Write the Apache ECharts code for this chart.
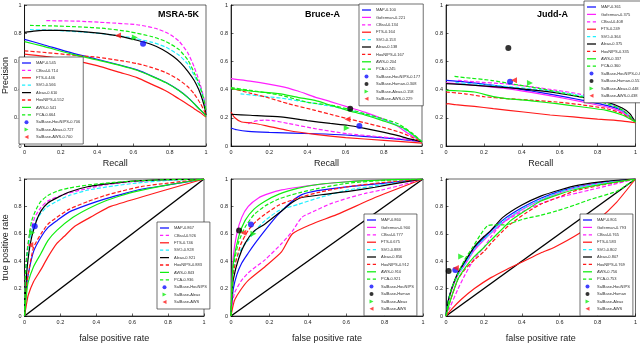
<!DOCTYPE html>
<html>
<head>
<meta charset="utf-8">
<script src="https://cdn.jsdelivr.net/npm/echarts@6/dist/echarts.min.js"></script>
<style>
  html, body { margin: 0; padding: 0; background: #fff; }
  #chart { width: 640px; height: 344px; }
</style>
</head>
<body>
<div id="chart"></div>
<script>
// ---- MSRA-5K precision / recall
const msraPrMAP = [[0,0.756],[0.1,0.72],[0.26,0.66],[0.4,0.615],[0.53,0.573],[0.62,0.54],[0.705,0.495],[0.78,0.45],[0.85,0.395],[0.9,0.345],[0.935,0.30],[0.965,0.26],[0.99,0.23],[1,0.21]]
const msraPrCBsal = [[0.12,0.889],[0.3,0.885],[0.45,0.875],[0.62,0.86],[0.72,0.835],[0.79,0.80],[0.85,0.745],[0.9,0.66],[0.935,0.56],[0.965,0.45],[0.99,0.33],[1,0.25]]
const msraPrFTS = [[0,0.652],[0.1,0.638],[0.26,0.609],[0.4,0.57],[0.53,0.52],[0.62,0.485],[0.705,0.435],[0.78,0.39],[0.85,0.335],[0.9,0.295],[0.935,0.265],[0.97,0.235],[1,0.205]]
const msraPrSVO = [[0.03,0.825],[0.15,0.822],[0.3,0.81],[0.44,0.795],[0.58,0.77],[0.705,0.735],[0.78,0.70],[0.85,0.645],[0.9,0.58],[0.935,0.50],[0.965,0.42],[0.99,0.32],[1,0.24]]
const msraPrAleax = [[0,0.806],[0.05,0.815],[0.1,0.82],[0.2,0.82],[0.35,0.808],[0.5,0.785],[0.62,0.75],[0.7,0.72],[0.76,0.685],[0.82,0.635],[0.86,0.59],[0.9,0.53],[0.935,0.465],[0.96,0.40],[0.98,0.33],[0.995,0.26],[1,0.22]]
const msraPrHouNIPS = [[0,0.675],[0.1,0.665],[0.26,0.645],[0.4,0.63],[0.53,0.605],[0.62,0.585],[0.705,0.555],[0.78,0.52],[0.85,0.47],[0.9,0.42],[0.935,0.37],[0.97,0.30],[0.99,0.25],[1,0.22]]
const msraPrAWS = [[0,0.74],[0.1,0.708],[0.26,0.652],[0.4,0.61],[0.53,0.57],[0.62,0.537],[0.705,0.492],[0.78,0.448],[0.85,0.393],[0.9,0.343],[0.935,0.30],[0.965,0.26],[0.99,0.23],[1,0.21]]
const msraPrPCA = [[0.03,0.855],[0.15,0.852],[0.3,0.845],[0.44,0.834],[0.58,0.81],[0.705,0.775],[0.78,0.74],[0.85,0.685],[0.9,0.61],[0.935,0.52],[0.965,0.43],[0.99,0.32],[1,0.25]]
const msraPrSalHou = [[0.653,0.725]]
const msraPrSalAleax = [[0.608,0.77]]
const msraPrSalAWS = [[0.515,0.784]]
const msraPrScores = ['0.545','0.714','0.446','0.566','0.610','0.552','0.541','0.664','0.706','0.727','0.700']

// ---- Bruce-A precision / recall
const brucePrMAP = [[0,0.128],[0.03,0.115],[0.09,0.104],[0.2,0.097],[0.44,0.087],[0.6,0.078],[0.79,0.059],[0.9,0.045],[1,0.03]]
const brucePrGoferman = [[0,0.478],[0.1,0.46],[0.26,0.423],[0.35,0.39],[0.44,0.347],[0.52,0.315],[0.61,0.277],[0.7,0.24],[0.79,0.194],[0.86,0.15],[0.93,0.087],[1,0.03]]
const brucePrCBsal = [[0.09,0.158],[0.13,0.178],[0.18,0.184],[0.22,0.18],[0.3,0.16],[0.44,0.123],[0.61,0.087],[0.79,0.064],[0.9,0.05],[1,0.03]]
const brucePrFTS = [[0,0.241],[0.02,0.2],[0.056,0.17],[0.1,0.165],[0.18,0.145],[0.3,0.11],[0.44,0.083],[0.6,0.06],[0.8,0.04],[1,0.02]]
const brucePrSVO = [[0.05,0.37],[0.15,0.355],[0.26,0.34],[0.4,0.31],[0.53,0.28],[0.62,0.255],[0.7,0.225],[0.8,0.185],[0.875,0.145],[0.95,0.08],[1,0.03]]
const brucePrAleax = [[0,0.225],[0.1,0.218],[0.26,0.206],[0.4,0.18],[0.52,0.16],[0.61,0.147],[0.7,0.125],[0.79,0.1],[0.87,0.075],[0.93,0.052],[1,0.03]]
const brucePrHouNIPS = [[0,0.41],[0.1,0.375],[0.18,0.348],[0.3,0.3],[0.44,0.253],[0.52,0.225],[0.61,0.194],[0.7,0.165],[0.79,0.135],[0.9,0.09],[1,0.03]]
const brucePrAWS = [[0,0.407],[0.1,0.39],[0.26,0.37],[0.35,0.345],[0.44,0.324],[0.52,0.29],[0.61,0.253],[0.7,0.22],[0.79,0.182],[0.91,0.123],[1,0.03]]
const brucePrPCA = [[0,0.414],[0.1,0.395],[0.26,0.36],[0.4,0.31],[0.53,0.288],[0.62,0.26],[0.7,0.229],[0.79,0.195],[0.875,0.158],[0.95,0.09],[1,0.03]]
const brucePrSalHou = [[0.672,0.142]]
const brucePrSalHuman = [[0.624,0.265]]
const brucePrSalAleax = [[0.606,0.128]]
const brucePrSalAWS = [[0.61,0.189]]
const brucePrScores = ['0.100','0.221','0.134','0.164','0.153','0.138','0.167','0.204','0.245','0.177','0.308','0.158','0.229']

// ---- Judd-A precision / recall
const juddPrMAP = [[0,0.466],[0.1,0.455],[0.32,0.418],[0.45,0.39],[0.585,0.359],[0.7,0.33],[0.847,0.288],[0.93,0.25],[1,0.17]]
const juddPrGoferman = [[0,0.447],[0.1,0.437],[0.32,0.407],[0.45,0.38],[0.585,0.348],[0.7,0.318],[0.847,0.277],[0.93,0.24],[1,0.17]]
const juddPrCBsal = [[0.063,0.466],[0.15,0.455],[0.32,0.44],[0.45,0.42],[0.585,0.395],[0.7,0.37],[0.76,0.35],[0.85,0.315],[0.934,0.253],[1,0.17]]
const juddPrFTS = [[0,0.296],[0.01,0.30],[0.05,0.293],[0.15,0.281],[0.25,0.265],[0.41,0.241],[0.55,0.22],[0.672,0.206],[0.8,0.19],[0.934,0.177],[1,0.165]]
const juddPrSVO = [[0.05,0.45],[0.15,0.44],[0.3,0.425],[0.45,0.405],[0.585,0.385],[0.7,0.36],[0.85,0.31],[0.934,0.25],[1,0.17]]
const juddPrAleax = [[0,0.442],[0.1,0.435],[0.32,0.414],[0.45,0.398],[0.585,0.376],[0.7,0.35],[0.847,0.312],[0.93,0.27],[0.97,0.23],[1,0.17]]
const juddPrHouNIPS = [[0,0.383],[0.1,0.37],[0.2,0.35],[0.32,0.336],[0.45,0.325],[0.585,0.312],[0.7,0.295],[0.847,0.265],[0.93,0.23],[1,0.17]]
const juddPrAWS = [[0,0.395],[0.08,0.39],[0.15,0.383],[0.25,0.35],[0.32,0.336],[0.45,0.32],[0.585,0.30],[0.7,0.28],[0.847,0.253],[0.93,0.22],[1,0.17]]
const juddPrPCA = [[0.045,0.494],[0.1,0.485],[0.237,0.466],[0.35,0.44],[0.498,0.407],[0.62,0.375],[0.76,0.336],[0.85,0.3],[0.934,0.253],[1,0.17]]
const juddPrSalHou = [[0.338,0.456]]
const juddPrSalHuman = [[0.329,0.695]]
const juddPrSalAleax = [[0.443,0.447]]
const juddPrSalAWS = [[0.359,0.466]]
const juddPrScores = ['0.361','0.375','0.408','0.249','0.364','0.375','0.335','0.337','0.360','0.423','0.551','0.448','0.438']

// ---- MSRA-5K ROC
const msraRocMAP = [[0,0],[0.01,0.2],[0.02,0.3],[0.05,0.47],[0.092,0.577],[0.13,0.645],[0.18,0.696],[0.25,0.76],[0.357,0.815],[0.45,0.855],[0.535,0.886],[0.65,0.925],[0.8,0.957],[1,1]]
const msraRocCBsal = [[0,0],[0.005,0.3],[0.012,0.458],[0.03,0.6],[0.057,0.72],[0.09,0.79],[0.127,0.838],[0.216,0.886],[0.3,0.915],[0.446,0.957],[0.6,0.98],[0.8,0.995],[1,1]]
const msraRocFTS = [[0,0],[0.01,0.08],[0.02,0.15],[0.05,0.25],[0.092,0.34],[0.13,0.43],[0.18,0.53],[0.22,0.58],[0.28,0.655],[0.38,0.73],[0.48,0.80],[1,1]]
const msraRocSVO = [[0,0],[0.008,0.3],[0.02,0.506],[0.045,0.64],[0.074,0.72],[0.12,0.79],[0.18,0.838],[0.25,0.88],[0.357,0.92],[0.5,0.95],[0.623,0.97],[0.8,0.99],[1,1]]
const msraRocAleax = [[0,0],[0.005,0.15],[0.012,0.316],[0.025,0.47],[0.04,0.577],[0.065,0.69],[0.092,0.767],[0.13,0.825],[0.18,0.862],[0.25,0.905],[0.357,0.945],[0.5,0.97],[0.623,0.986],[0.8,0.995],[1,1]]
const msraRocHouNIPS = [[0,0],[0.01,0.2],[0.02,0.3],[0.05,0.5],[0.092,0.60],[0.13,0.67],[0.18,0.72],[0.25,0.78],[0.357,0.838],[0.45,0.88],[0.535,0.91],[0.65,0.945],[0.8,0.97],[1,1]]
const msraRocAWS = [[0,0],[0.01,0.15],[0.02,0.245],[0.05,0.36],[0.092,0.458],[0.13,0.55],[0.18,0.625],[0.27,0.72],[0.357,0.785],[0.446,0.838],[0.535,0.878],[0.623,0.91],[0.8,0.957],[1,1]]
const msraRocPCA = [[0,0],[0.005,0.3],[0.012,0.435],[0.025,0.58],[0.04,0.696],[0.065,0.78],[0.092,0.838],[0.13,0.88],[0.18,0.91],[0.25,0.935],[0.357,0.957],[0.5,0.975],[0.623,0.986],[0.8,0.995],[1,1]]
const msraRocSalHou = [[0.057,0.656]]
const msraRocSalAleax = [[0.042,0.608]]
const msraRocSalAWS = [[0.032,0.518]]
const msraRocScores = ['0.867','0.926','0.746','0.928','0.921','0.883','0.843','0.936']

// ---- Bruce-A ROC
const bruceRocMAP = [[0,0],[0.005,0.1],[0.012,0.197],[0.03,0.3],[0.056,0.387],[0.09,0.46],[0.125,0.53],[0.177,0.625],[0.22,0.70],[0.264,0.767],[0.32,0.84],[0.369,0.886],[0.45,0.915],[0.612,0.945],[0.8,0.97],[0.9,0.985],[1,1]]
const bruceRocGoferman = [[0,0],[0.005,0.25],[0.012,0.435],[0.03,0.6],[0.056,0.72],[0.09,0.8],[0.143,0.862],[0.2,0.895],[0.264,0.92],[0.35,0.94],[0.44,0.957],[0.6,0.98],[0.786,0.993],[1,1]]
const bruceRocCBsal = [[0,0],[0.005,0.08],[0.02,0.173],[0.05,0.25],[0.09,0.316],[0.177,0.41],[0.264,0.53],[0.32,0.62],[0.369,0.72],[0.44,0.77],[0.52,0.82],[0.612,0.862],[0.7,0.895],[0.786,0.92],[0.9,0.96],[1,1]]
const bruceRocFTS = [[0,0],[0.01,0.07],[0.02,0.12],[0.05,0.19],[0.09,0.26],[0.177,0.36],[0.264,0.47],[0.32,0.60],[0.42,0.67],[0.55,0.74],[0.76,0.87],[1,1]]
const bruceRocSVO = [[0,0],[0.008,0.25],[0.02,0.387],[0.05,0.48],[0.09,0.553],[0.13,0.63],[0.177,0.696],[0.25,0.77],[0.351,0.815],[0.45,0.86],[0.612,0.92],[0.8,0.96],[0.9,0.98],[1,1]]
const bruceRocAleax = [[0,0],[0.005,0.15],[0.012,0.268],[0.04,0.42],[0.073,0.53],[0.12,0.62],[0.177,0.672],[0.264,0.767],[0.32,0.83],[0.369,0.865],[0.5,0.89],[0.612,0.91],[0.75,0.94],[0.87,0.97],[1,1]]
const bruceRocHouNIPS = [[0,0],[0.005,0.18],[0.012,0.316],[0.05,0.52],[0.09,0.625],[0.13,0.69],[0.177,0.743],[0.25,0.81],[0.351,0.862],[0.45,0.9],[0.612,0.945],[0.8,0.975],[1,1]]
const bruceRocAWS = [[0,0],[0.005,0.22],[0.012,0.387],[0.04,0.58],[0.073,0.696],[0.12,0.78],[0.177,0.838],[0.25,0.89],[0.351,0.933],[0.45,0.96],[0.612,0.98],[0.8,0.993],[1,1]]
const bruceRocPCA = [[0,0],[0.005,0.2],[0.012,0.36],[0.04,0.54],[0.073,0.648],[0.12,0.74],[0.177,0.803],[0.25,0.855],[0.351,0.898],[0.45,0.93],[0.612,0.97],[0.8,0.99],[1,1]]
const bruceRocSalHou = [[0.104,0.667]]
const bruceRocSalHuman = [[0.042,0.625]]
const bruceRocSalAleax = [[0.117,0.60]]
const bruceRocSalAWS = [[0.064,0.608]]
const bruceRocScores = ['0.860','0.900','0.777','0.675','0.888','0.856','0.912','0.910','0.921']

// ---- Judd-A ROC
const juddRocMAP = [[0,0],[0.01,0.1],[0.03,0.2],[0.063,0.31],[0.1,0.39],[0.15,0.495],[0.2,0.57],[0.3,0.70],[0.4,0.79],[0.5,0.86],[0.6,0.91],[0.7,0.945],[0.85,0.98],[1,1]]
const juddRocGoferman = [[0,0],[0.01,0.09],[0.03,0.19],[0.063,0.3],[0.1,0.375],[0.15,0.48],[0.2,0.555],[0.3,0.68],[0.4,0.775],[0.5,0.845],[0.6,0.9],[0.7,0.94],[0.85,0.975],[1,1]]
const juddRocCBsal = [[0,0],[0.02,0.06],[0.063,0.197],[0.1,0.3],[0.15,0.42],[0.2,0.5],[0.237,0.577],[0.3,0.68],[0.41,0.767],[0.5,0.82],[0.585,0.862],[0.7,0.9],[0.76,0.92],[0.88,0.96],[1,1]]
const juddRocFTS = [[0,0],[0.03,0.05],[0.08,0.12],[0.15,0.2],[0.237,0.28],[0.32,0.34],[0.41,0.4],[0.5,0.46],[0.57,0.5],[0.7,0.6],[0.8,0.7],[0.9,0.83],[1,1]]
const juddRocSVO = [[0,0],[0.01,0.1],[0.03,0.2],[0.063,0.3],[0.1,0.38],[0.15,0.49],[0.2,0.56],[0.3,0.69],[0.4,0.78],[0.5,0.85],[0.6,0.905],[0.7,0.94],[0.85,0.975],[1,1]]
const juddRocAleax = [[0,0],[0.01,0.1],[0.03,0.2],[0.063,0.316],[0.1,0.4],[0.15,0.506],[0.2,0.58],[0.237,0.625],[0.3,0.72],[0.4,0.81],[0.5,0.875],[0.6,0.92],[0.7,0.955],[0.85,0.985],[1,1]]
const juddRocHouNIPS = [[0,0],[0.02,0.1],[0.063,0.268],[0.1,0.34],[0.15,0.41],[0.2,0.47],[0.237,0.53],[0.3,0.62],[0.341,0.672],[0.42,0.75],[0.498,0.815],[0.6,0.87],[0.672,0.91],[0.8,0.95],[1,1]]
const juddRocAWS = [[0,0],[0.02,0.1],[0.063,0.268],[0.1,0.35],[0.15,0.435],[0.2,0.5],[0.237,0.553],[0.3,0.64],[0.341,0.696],[0.42,0.77],[0.498,0.838],[0.6,0.89],[0.672,0.92],[0.8,0.955],[1,1]]
const juddRocPCA = [[0,0],[0.01,0.08],[0.028,0.197],[0.06,0.3],[0.098,0.41],[0.14,0.5],[0.185,0.6],[0.22,0.66],[0.26,0.665],[0.307,0.665],[0.41,0.708],[0.5,0.735],[0.585,0.767],[0.68,0.81],[0.76,0.85],[0.9,0.91],[1,1]]
const juddRocSalHou = [[0.049,0.335]]
const juddRocSalHuman = [[0.014,0.328]]
const juddRocSalAleax = [[0.08,0.435]]
const juddRocSalAWS = [[0.052,0.35]]
const juddRocScores = ['0.801','0.793','0.765','0.583','0.802','0.807','0.769','0.756','0.753']

const chanceLine = [[0,0],[1,1]]
const axisTicks = [0, 0.2, 0.4, 0.6, 0.8, 1]
const panelTitles = ['MSRA-5K', 'Bruce-A', 'Judd-A']

// line look for each method
const methodStyle = {
  MAP: { color: '#1010ff', dash: 'solid' },
  Goferman: { color: '#ff20ff', dash: 'solid' },
  CBsal: { color: '#ff20ff', dash: [4, 2] },
  FTS: { color: '#ff1a1a', dash: 'solid' },
  SVO: { color: '#1ff0ff', dash: [4, 2] },
  Aleax: { color: '#000000', dash: 'solid' },
  HouNIPS: { color: '#ff1a1a', dash: [4, 2] },
  AWS: { color: '#10ee10', dash: 'solid' },
  PCA: { color: '#10ee10', dash: [4, 2] }
}
const markStyle = {
  'SalBase-HouNIPS': { color: '#1010ff', symbol: 'circle' },
  'SalBase-Human': { color: '#000000', symbol: 'circle' },
  'SalBase-Aleax': { color: '#10ee10', symbol: 'path://M0,0L10,5L0,10Z' },
  'SalBase-AWS': { color: '#ff1a1a', symbol: 'path://M10,0L0,5L10,10Z' }
}
// thin line samples for the legend
const solidIcon = 'path://M0,0h10v1.4h-10z'
const dashIcon = 'path://M0,0h3.6v1.4h-3.6zM6.4,0h3.6v1.4h-3.6z'

// panel layout: [left, top, width, height]
const panels = [
  { box: [17, 5, 189, 141], legend: [19, 57], title: [158, 10], roc: false, yName: 'Precision', scores: msraPrScores,
    curves: [['MAP', msraPrMAP], ['CBsal', msraPrCBsal], ['FTS', msraPrFTS], ['SVO', msraPrSVO], ['Aleax', msraPrAleax], ['HouNIPS', msraPrHouNIPS], ['AWS', msraPrAWS], ['PCA', msraPrPCA]],
    marks: [['SalBase-HouNIPS', msraPrSalHou], ['SalBase-Aleax', msraPrSalAleax], ['SalBase-AWS', msraPrSalAWS]] },
  { box: [231, 5, 191, 141], legend: [359, 4], title: [305, 10], roc: false, yName: '', scores: brucePrScores,
    curves: [['MAP', brucePrMAP], ['Goferman', brucePrGoferman], ['CBsal', brucePrCBsal], ['FTS', brucePrFTS], ['SVO', brucePrSVO], ['Aleax', brucePrAleax], ['HouNIPS', brucePrHouNIPS], ['AWS', brucePrAWS], ['PCA', brucePrPCA]],
    marks: [['SalBase-HouNIPS', brucePrSalHou], ['SalBase-Human', brucePrSalHuman], ['SalBase-Aleax', brucePrSalAleax], ['SalBase-AWS', brucePrSalAWS]] },
  { box: [446, 5, 192, 141], legend: [584, 1], title: [537, 10], roc: false, yName: '', scores: juddPrScores,
    curves: [['MAP', juddPrMAP], ['Goferman', juddPrGoferman], ['CBsal', juddPrCBsal], ['FTS', juddPrFTS], ['SVO', juddPrSVO], ['Aleax', juddPrAleax], ['HouNIPS', juddPrHouNIPS], ['AWS', juddPrAWS], ['PCA', juddPrPCA]],
    marks: [['SalBase-HouNIPS', juddPrSalHou], ['SalBase-Human', juddPrSalHuman], ['SalBase-Aleax', juddPrSalAleax], ['SalBase-AWS', juddPrSalAWS]] },
  { box: [16, 179, 188, 140], legend: [157, 222], roc: true, yName: 'true positive rate', scores: msraRocScores,
    curves: [['MAP', msraRocMAP], ['CBsal', msraRocCBsal], ['FTS', msraRocFTS], ['SVO', msraRocSVO], ['Aleax', msraRocAleax], ['HouNIPS', msraRocHouNIPS], ['AWS', msraRocAWS], ['PCA', msraRocPCA]],
    marks: [['SalBase-HouNIPS', msraRocSalHou], ['SalBase-Aleax', msraRocSalAleax], ['SalBase-AWS', msraRocSalAWS]] },
  { box: [231, 179, 192, 140], legend: [364, 214], roc: true, yName: '', scores: bruceRocScores,
    curves: [['MAP', bruceRocMAP], ['Goferman', bruceRocGoferman], ['CBsal', bruceRocCBsal], ['FTS', bruceRocFTS], ['SVO', bruceRocSVO], ['Aleax', bruceRocAleax], ['HouNIPS', bruceRocHouNIPS], ['AWS', bruceRocAWS], ['PCA', bruceRocPCA]],
    marks: [['SalBase-HouNIPS', bruceRocSalHou], ['SalBase-Human', bruceRocSalHuman], ['SalBase-Aleax', bruceRocSalAleax], ['SalBase-AWS', bruceRocSalAWS]] },
  { box: [446, 179, 192, 140], legend: [580, 214], roc: true, yName: '', scores: juddRocScores,
    curves: [['MAP', juddRocMAP], ['Goferman', juddRocGoferman], ['CBsal', juddRocCBsal], ['FTS', juddRocFTS], ['SVO', juddRocSVO], ['Aleax', juddRocAleax], ['HouNIPS', juddRocHouNIPS], ['AWS', juddRocAWS], ['PCA', juddRocPCA]],
    marks: [['SalBase-HouNIPS', juddRocSalHou], ['SalBase-Human', juddRocSalHuman], ['SalBase-Aleax', juddRocSalAleax], ['SalBase-AWS', juddRocSalAWS]] }
]

const font = 'Liberation Sans, Arial, sans-serif'
const option = {
  animation: false,
  backgroundColor: '#fff',
  textStyle: { fontFamily: font },
  title: [],
  grid: [],
  xAxis: [],
  yAxis: [],
  legend: [],
  series: []
}

panelTitles.forEach((t, i) => {
  option.title.push({
    text: t,
    left: panels[i].title[0],
    top: panels[i].title[1],
    padding: 0,
    textStyle: { fontSize: 9, fontWeight: 'bold', color: '#000', fontFamily: font }
  })
})

const axisBase = (name, gap) => ({
  type: 'value', min: 0, max: 1, interval: 0.2,
  name: name, nameLocation: 'middle', nameGap: gap,
  nameTextStyle: { fontSize: 9, color: '#222', fontFamily: font },
  axisLine: { lineStyle: { color: '#000', width: 0.8 } },
  axisTick: { inside: true, length: 2.5, lineStyle: { color: '#000', width: 0.6 } },
  axisLabel: { fontSize: 5.5, color: '#222', margin: 3,
    formatter: v => axisTicks.includes(Math.round(v * 10) / 10) ? String(Math.round(v * 10) / 10) : '' },
  splitLine: { show: false }
})

panels.forEach((p, i) => {
  const b = p.box
  option.grid.push({ left: b[0], top: b[1], width: b[2], height: b[3], show: true,
    borderColor: '#000', borderWidth: 0.6, backgroundColor: 'transparent' })
  option.xAxis.push(Object.assign(axisBase(p.roc ? 'false positive rate' : 'Recall', p.roc ? 18 : 13), { gridIndex: i }))
  option.yAxis.push(Object.assign(axisBase(p.yName, 12), { gridIndex: i }))

  const items = []
  if (p.roc) {
    option.series.push({ type: 'line', xAxisIndex: i, yAxisIndex: i, data: chanceLine, symbol: 'none',
      lineStyle: { color: '#000', width: 1.4 }, silent: true, z: 2 })
  }
  p.curves.forEach(([m, data], k) => {
    const st = methodStyle[m]
    const nm = m + '-' + p.scores[k]
    items.push({ name: nm, icon: st.dash === 'solid' ? solidIcon : dashIcon })
    option.series.push({ type: 'line', name: nm, xAxisIndex: i, yAxisIndex: i, data: data,
      symbol: 'none', smooth: 0.2, color: st.color,
      lineStyle: { color: st.color, width: 1.2, type: st.dash }, z: 3 })
  })
  p.marks.forEach(([m, data], k) => {
    const st = markStyle[m]
    const sc = p.scores[p.curves.length + k]
    const nm = sc ? m + '-' + sc : m
    items.push({ name: nm, icon: st.symbol })
    option.series.push({ type: 'scatter', name: nm, xAxisIndex: i, yAxisIndex: i, data: data,
      symbol: st.symbol, symbolSize: 6, itemStyle: { color: st.color }, z: 5 })
  })

  option.legend.push({
    orient: 'vertical', left: p.legend[0], top: p.legend[1], data: items,
    itemWidth: 9, itemHeight: 4, itemGap: 3.4, padding: [4, 3, 5, 3],
    backgroundColor: '#fff', borderColor: '#333', borderWidth: 0.7,
    selectedMode: false,
    textStyle: { fontSize: 4, lineHeight: 4, color: '#333', fontFamily: font }
  })
})

const chart = echarts.init(document.getElementById('chart'))
chart.setOption(option)
</script>
</body>
</html>
